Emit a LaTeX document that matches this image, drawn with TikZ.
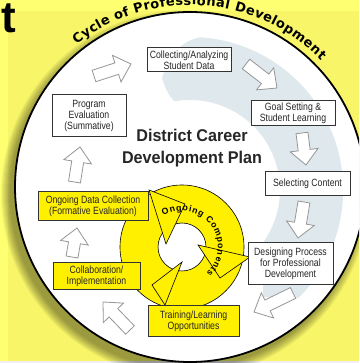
\documentclass[tikz,border=0pt]{standalone}
\usepackage{fontspec}
\setmainfont{Liberation Sans}
\newfontfamily\boxfont[FakeStretch=0.83]{Liberation Sans}
\newfontfamily\titlefont[FakeStretch=0.95]{Liberation Sans}
\newfontfamily\heavyfont{DejaVu Sans}
\usetikzlibrary{calc,decorations.text}
\definecolor{bgyellow}{RGB}{248,246,104}
\definecolor{bgyellowlight}{RGB}{255,255,114}
\definecolor{boxyellow}{RGB}{255,240,0}
\definecolor{bandblue}{RGB}{223,233,237}
\definecolor{arrowgray}{RGB}{150,150,150}
\tikzset{
  box/.style={draw=black!80, line width=1pt, inner sep=1pt, align=center,
    font=\boxfont\fontsize{10.5}{11}\selectfont, text=black!85},
  wbox/.style={box, fill=white},
  ybox/.style={box, fill=boxyellow},
  barrow/.style={draw=arrowgray, line width=0.8pt, fill=white, line join=miter},
  headtri/.style={draw=black, line width=0.6pt, fill=boxyellow, line join=miter},
}
\newcommand\blockarr[2]{%
  \coordinate (#2-b) at ($(#2)!15pt!(#1)$);
  \draw[barrow] ($(#1)!6pt!90:(#2)$) -- ($(#2-b)!6pt!-90:(#1)$)
    -- ($(#2-b)!14pt!-90:(#1)$) -- (#2) -- ($(#2-b)!14pt!90:(#1)$)
    -- ($(#2-b)!6pt!90:(#1)$) -- ($(#1)!6pt!-90:(#2)$) -- cycle;
}
\begin{document}
\begin{tikzpicture}[x=1pt,y=1pt]
\useasboundingbox (0,0) rectangle (359,363);
\clip (0,0) rectangle (359,363);
% background
\fill[bgyellow] (0,0) rectangle (359,363);
\fill[bgyellowlight] (0,0) rectangle (8,363);
\fill[bgyellowlight] (0,352) rectangle (359,363);
\fill[black!6] (0,0) rectangle (359,2);
% title fragment
\node[anchor=base east, inner sep=0pt, font=\bfseries\fontsize{44}{44}\selectfont] (tfrag) at (16,330) {t};
% shadow
\foreach \r in {0,...,9} \fill[black, opacity=0.045] (185,169) circle[radius=175+\r];
% main circle
\coordinate (cc) at (190,176);
\draw[line width=1.8pt, fill=white] (cc) circle[radius=175];
% light band
\fill[bandblue] (162,285) .. controls (170,310) and (182,322) .. (200,325.7)
  arc[start angle=86.3, end angle=-45, radius=153]
  -- (263,66) -- (263.7,121.4)
  arc[start angle=-35, end angle=100, radius=90]
  .. controls (168,268) and (164,278) .. cycle;
% outer text
\path[decorate, decoration={text along path, text align=fit to path,
  text={|\heavyfont\bfseries\fontsize{13}{15}\selectfont|Cycle of Professional Development}}]
  ($(cc)+(128.5:182)$) arc[start angle=128.5, end angle=44, radius=182];
% ongoing ring
\coordinate (rc) at (182,116);
\fill[boxyellow, even odd rule] (rc) circle[radius=62] (rc) circle[radius=24];
\draw[line width=0.6pt] (rc) circle[radius=62] (rc) circle[radius=24];
\draw[headtri] (149,173) -- (185,159) -- (166,119) -- cycle;
\draw[headtri] (250,106) -- (198,118) -- (220,85) -- cycle;
\draw[headtri] (152,78) -- (182,101) -- (165,58) -- cycle;
\path[decorate, decoration={text along path, text align=fit to path,
  text={|\bfseries\fontsize{8.8}{10}\selectfont|Ongoing Components}}]
  ($(rc)+(121:36)$) arc[start angle=121, end angle=-47, radius=36];
% title
\node[font=\titlefont\bfseries\fontsize{17}{22}\selectfont, align=center, text=black!85] (title) at (192,215) {District Career\\Development Plan};
% arrows
\coordinate (a1t) at (94,287);   \coordinate (a1p) at (131,299);
\coordinate (a2t) at (246,299);  \coordinate (a2p) at (277,275);
\coordinate (a3t) at (302,230);  \coordinate (a3p) at (306,198);
\coordinate (a4t) at (304,161);  \coordinate (a4p) at (298,125);
\coordinate (a5t) at (293,70);   \coordinate (a5p) at (254,51);
\coordinate (a6t) at (130,33);   \coordinate (a6p) at (103,61);
\coordinate (a7t) at (72,106);   \coordinate (a7p) at (77,135);
\coordinate (a8t) at (74.5,181); \coordinate (a8p) at (80,216);
\blockarr{a1t}{a1p}
\blockarr{a2t}{a2p}
\blockarr{a3t}{a3p}
\blockarr{a4t}{a4p}
\blockarr{a5t}{a5p}
\blockarr{a6t}{a6p}
\blockarr{a7t}{a7p}
\blockarr{a8t}{a8p}
% boxes
\node[wbox, minimum width=84pt, minimum height=24pt] (collect) at (189,303) {Collecting/Analyzing\\Student Data};
\node[wbox, minimum width=84pt, minimum height=25pt] (goal) at (293,249.5) {Goal Setting \&\\Student Learning};
\node[wbox, minimum width=85pt, minimum height=24pt] (select) at (307.5,179) {Selecting Content};
\node[wbox, minimum width=85pt, minimum height=42pt] (design) at (290.5,99) {Designing Process\\for Professional\\Development};
\node[ybox, minimum width=91pt, minimum height=31pt] (train) at (193.5,41.5) {Training/Learning\\Opportunities};
\node[ybox, minimum width=87pt, minimum height=27pt] (collab) at (96.5,86.5) {Collaboration/\\Implementation};
\node[ybox, minimum width=110pt, minimum height=29pt] (ongoing) at (93,156.5) {Ongoing Data Collection\\(Formative Evaluation)};
\node[wbox, minimum width=74pt, minimum height=42pt] (program) at (89,247) {Program\\Evaluation\\(Summative)};
\end{tikzpicture}
\end{document}
